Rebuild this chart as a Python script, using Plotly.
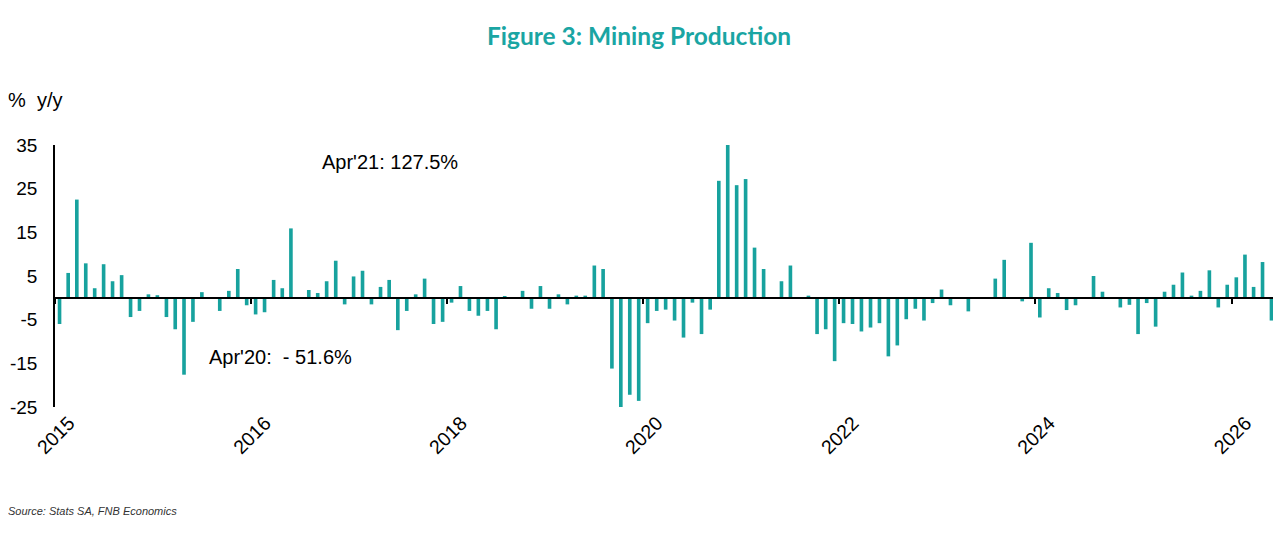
import pandas as pd
import plotly.graph_objects as go

# Mining production, % y/y (monthly, Jan 2015 onwards)
mining_yy = [
    -6.0, 5.7, 22.5, 7.9, 2.2, 7.7, 3.8, 5.2, -4.4, -3.0, 0.8, 0.6, -4.4, -7.2, -17.6, -5.5, 1.3, -0.1, -3.0, 1.6,
    6.6, -1.7, -3.8, -3.3, 4.1, 2.2, 15.9, 0.1, 1.8, 1.1, 3.8, 8.5, -1.5, 4.9, 6.2, -1.5, 2.5, 4.1, -7.4,
    -3.0, 0.8, 4.4, -6.0, -5.5, -1.1, 2.7, -3.0, -4.1, -3.0, -7.2, 0.2, -0.1, 1.6, -2.5, 2.7, -2.5, 0.8, -1.5, 0.5,
    0.5, 7.4, 6.6, -16.2, -51.6, -22.2, -23.6, -5.8, -3.0, -2.7, -5.2, -9.1, -1.1, -8.3, -2.7, 26.8, 127.5, 25.8, 27.2,
    11.5, 6.6, -0.1, 3.8, 7.4, 0.1, 0.5, -8.3, -7.2, -14.5, -5.8, -6.0, -7.7, -6.8, -5.8, -13.4, -10.9, -4.9, -2.5, -5.2,
    -1.2, 1.9, -1.7, 0.1, -3.1, -0.1, -0.1, 4.4, 8.7, 0.0, -0.8, 12.6, -4.5, 2.2, 1.1, -2.8, -1.7, 0.1, 5.0, 1.4,
    -0.1, -2.2, -1.6, -8.3, -1.2, -6.6, 1.4, 3.0, 5.8, 0.5, 1.6, 6.3, -2.2, 3.0, 4.7, 9.9, 2.5, 8.2, -5.2,
]
months = pd.date_range("2015-01-01", periods=len(mining_yy), freq="MS")

# the x axis labels every 22nd month, shown as the year only
tick_dates = ["2015-01-01", "2016-11-01", "2018-09-01", "2020-07-01", "2022-05-01", "2024-03-01", "2026-01-01"]
tick_years = ["2015", "2016", "2018", "2020", "2022", "2024", "2026"]
y_ticks = [-25, -15, -5, 5, 15, 25, 35]
y_tick_text = ["-25", "-15", "-5", "5", "15", "25", "35"]

teal = "#17A29E"
x_range = ["2015-01-01", "2026-06-01"]
y_range = [-25, 35]

fig = go.Figure()

fig.add_trace(go.Bar(
    x=months,
    y=mining_yy,
    xperiod="M1",
    xperiodalignment="middle",
    marker=dict(color=teal, line=dict(width=0)),
    showlegend=False,
))
# empty trace so the overlay axis (zero line + ticks) is drawn
fig.add_trace(go.Scatter(x=[], y=[], xaxis="x2", showlegend=False))

# page body has an 8px margin, so the figure is a bit smaller than the window
fig.update_layout(
    width=1273,
    height=535,
    autosize=False,
    margin=dict(l=47, r=5, t=137, b=136),
    paper_bgcolor="white",
    plot_bgcolor="white",
    bargap=0.58,
    font=dict(family="Liberation Sans, Arial, sans-serif", size=20, color="black"),
    title=dict(
        text="Figure 3: Mining Production",
        x=0.4957,
        xanchor="center",
        xref="container",
        y=1 - 28 / 535,
        yref="container",
        yanchor="middle",
        font=dict(family="Lato, sans-serif", size=24.5, color="#1AA5A3", weight="bold"),
    ),
    xaxis=dict(
        type="date",
        range=x_range,
        tickmode="array",
        tickvals=tick_dates,
        ticktext=tick_years,
        tickangle=-45,
        ticks="",
        showgrid=False,
        showline=False,
        zeroline=False,
        automargin=False,
        ticklabelshift=14,
        tickfont=dict(size=19.5),
    ),
    # overlay axis sitting on y=0: the black zero line and its small tick marks
    xaxis2=dict(
        type="date",
        overlaying="x",
        anchor="free",
        position=(0 - y_range[0]) / (y_range[1] - y_range[0]),
        range=x_range,
        tickmode="array",
        tickvals=tick_dates,
        ticks="outside",
        ticklen=5,
        tickwidth=1.5,
        tickcolor="black",
        showticklabels=False,
        showgrid=False,
        showline=True,
        linecolor="black",
        linewidth=1.5,
        zeroline=False,
        automargin=False,
    ),
    yaxis=dict(
        range=y_range,
        tickmode="array",
        tickvals=y_ticks,
        ticktext=y_tick_text,
        ticks="",
        ticklen=0,
        ticklabelstandoff=12,
        showgrid=False,
        showline=True,
        linecolor="black",
        linewidth=1.5,
        zeroline=False,
        automargin=False,
        tickfont=dict(size=19),
    ),
)

fig.add_annotation(
    text="Apr'21: 127.5%", xref="paper", yref="paper",
    x=0.217, y=0.935, xanchor="left", yanchor="middle",
    showarrow=False, font=dict(size=20),
)
fig.add_annotation(
    text="Apr'20:\u00a0\u00a0-\u00a051.6%", xref="paper", yref="paper",
    x=0.1245, y=0.191, xanchor="left", yanchor="middle",
    showarrow=False, font=dict(size=20),
)
fig.add_annotation(
    text="%\u00a0\u00a0y/y", xref="paper", yref="paper",
    x=-0.040, y=1.172, xanchor="left", yanchor="middle",
    showarrow=False, font=dict(size=20),
)
fig.add_annotation(
    text="<i>Source: Stats SA, FNB Economics</i>", xref="paper", yref="paper",
    x=-0.040, y=-0.397, xanchor="left", yanchor="middle",
    showarrow=False, font=dict(size=11, color="#333333"),
)

fig.write_html("out.html")
